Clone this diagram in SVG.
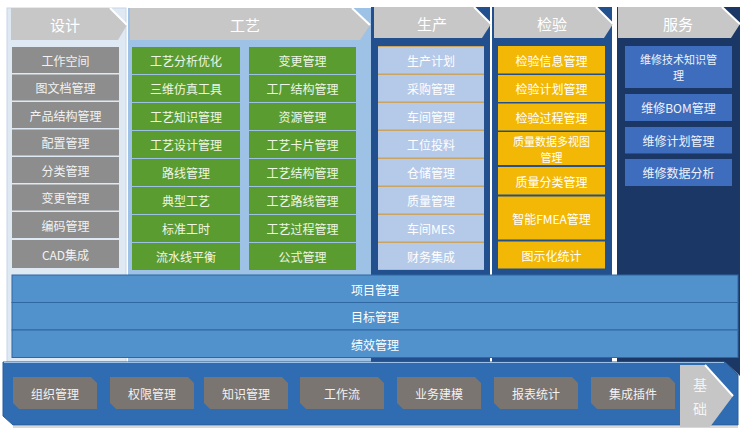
<svg xmlns="http://www.w3.org/2000/svg" width="755" height="437" viewBox="0 0 755 437">
<defs>
<style>
text{font-family:"Noto Sans CJK SC","Noto Sans",sans-serif;text-anchor:middle;dominant-baseline:central;}
.hd{fill:#c7c7c7;}
.hdt{fill:#ffffff;font-size:15px;}
.hl{stroke:#ffffff;stroke-width:2;fill:none;}
.gray{fill:#8d8d8d;}
.green{fill:#5b9c30;}
.lb{fill:#b5c9e9;}
.yel{fill:#f3b705;}
.svc{fill:#3e6dbd;}
.band{fill:#5191cc;stroke:#2f67a2;stroke-width:1;}
.item{fill:#7b7571;}
.t{fill:#f2f2f2;font-size:12px;}
.tg{fill:#eef6e6;font-size:12px;}
.tl{fill:#ffffff;font-size:12px;}
.tb{fill:#eef2fa;font-size:12px;}
.two{font-size:11px;}
</style>
</defs>
<rect width="755" height="437" fill="#ffffff"/>

<g id="col-design">
<rect x="7" y="8" width="119" height="354" fill="#dfe9f3" stroke="#c9d6e3"/>
<polygon class="hd" points="11,8 110,8 127,25 118,40 11,40"/>
<line class="hl" x1="110" y1="8" x2="127" y2="25"/>
<text class="hdt" x="65" y="24">设计</text>
<rect class="gray" x="12" y="47" width="107" height="26"/><text class="t" x="65.5" y="60">工作空间</text>
<rect class="gray" x="12" y="74.5" width="107" height="26"/><text class="t" x="65.5" y="87.5">图文档管理</text>
<rect class="gray" x="12" y="102" width="107" height="26"/><text class="t" x="65.5" y="115">产品结构管理</text>
<rect class="gray" x="12" y="129.5" width="107" height="26"/><text class="t" x="65.5" y="142.5">配置管理</text>
<rect class="gray" x="12" y="157" width="107" height="26"/><text class="t" x="65.5" y="170">分类管理</text>
<rect class="gray" x="12" y="184.5" width="107" height="26"/><text class="t" x="65.5" y="197.5">变更管理</text>
<rect class="gray" x="12" y="212" width="107" height="26"/><text class="t" x="65.5" y="225">编码管理</text>
<rect class="gray" x="12" y="240" width="107" height="28"/><text class="t" x="65.5" y="254">CAD集成</text>
</g>

<g id="col-process">
<rect x="128" y="8" width="244" height="354" fill="#9dc2e6"/>
<polygon class="hd" points="130,8 352,8 370,25 360,40 130,40"/>
<line class="hl" x1="352" y1="8" x2="370" y2="25"/>
<text class="hdt" x="245" y="24">工艺</text>
<rect class="green" x="132" y="47" width="108" height="27"/><text class="tg" x="186" y="60.5">工艺分析优化</text>
<rect class="green" x="132" y="75" width="108" height="27"/><text class="tg" x="186" y="88.5">三维仿真工具</text>
<rect class="green" x="132" y="103" width="108" height="27"/><text class="tg" x="186" y="116.5">工艺知识管理</text>
<rect class="green" x="132" y="131" width="108" height="27"/><text class="tg" x="186" y="144.5">工艺设计管理</text>
<rect class="green" x="132" y="159" width="108" height="27"/><text class="tg" x="186" y="172.5">路线管理</text>
<rect class="green" x="132" y="187" width="108" height="27"/><text class="tg" x="186" y="200.5">典型工艺</text>
<rect class="green" x="132" y="215" width="108" height="27"/><text class="tg" x="186" y="228.5">标准工时</text>
<rect class="green" x="132" y="243" width="108" height="27"/><text class="tg" x="186" y="256.5">流水线平衡</text>
<rect class="green" x="249" y="47" width="107" height="27"/><text class="tg" x="302.5" y="60.5">变更管理</text>
<rect class="green" x="249" y="75" width="107" height="27"/><text class="tg" x="302.5" y="88.5">工厂结构管理</text>
<rect class="green" x="249" y="103" width="107" height="27"/><text class="tg" x="302.5" y="116.5">资源管理</text>
<rect class="green" x="249" y="131" width="107" height="27"/><text class="tg" x="302.5" y="144.5">工艺卡片管理</text>
<rect class="green" x="249" y="159" width="107" height="27"/><text class="tg" x="302.5" y="172.5">工艺结构管理</text>
<rect class="green" x="249" y="187" width="107" height="27"/><text class="tg" x="302.5" y="200.5">工艺路线管理</text>
<rect class="green" x="249" y="215" width="107" height="27"/><text class="tg" x="302.5" y="228.5">工艺过程管理</text>
<rect class="green" x="249" y="243" width="107" height="27"/><text class="tg" x="302.5" y="256.5">公式管理</text>
</g>

<g id="col-production">
<rect x="371" y="7" width="119" height="355" fill="#22508f"/>
<polygon class="hd" points="374,7 474,7 491,24 482,38 374,38"/>
<line class="hl" x1="474" y1="7" x2="491" y2="24"/>
<text class="hdt" x="432" y="23">生产</text>
<rect x="378" y="46" width="106" height="224" fill="#c9a462"/>
<rect class="lb" x="378" y="47" width="106" height="26.5"/><text class="tl" x="431" y="60">生产计划</text>
<rect class="lb" x="378" y="75" width="106" height="26.5"/><text class="tl" x="431" y="88">采购管理</text>
<rect class="lb" x="378" y="103" width="106" height="26.5"/><text class="tl" x="431" y="116">车间管理</text>
<rect class="lb" x="378" y="131" width="106" height="26.5"/><text class="tl" x="431" y="144">工位投料</text>
<rect class="lb" x="378" y="159" width="106" height="26.5"/><text class="tl" x="431" y="172">仓储管理</text>
<rect class="lb" x="378" y="187" width="106" height="26.5"/><text class="tl" x="431" y="200">质量管理</text>
<rect class="lb" x="378" y="215" width="106" height="26.5"/><text class="tl" x="431" y="228">车间MES</text>
<rect class="lb" x="378" y="243" width="106" height="26.5"/><text class="tl" x="431" y="256">财务集成</text>
</g>

<g id="col-inspection">
<rect x="492" y="7" width="120" height="355" fill="#22508f"/>
<polygon class="hd" points="494,7 596,7 613,24 604,38 494,38"/>
<line class="hl" x1="596" y1="7" x2="613" y2="24"/>
<text class="hdt" x="552" y="23">检验</text>
<rect class="yel" x="498" y="46" width="107" height="27.5"/><text class="tl" x="551.5" y="60">检验信息管理</text>
<rect class="yel" x="498" y="75" width="107" height="27"/><text class="tl" x="551.5" y="88.5">检验计划管理</text>
<rect class="yel" x="498" y="103.5" width="107" height="27"/><text class="tl" x="551.5" y="117">检验过程管理</text>
<rect class="yel" x="498" y="132" width="107" height="33"/><text class="tl two" x="551.5" y="140.5">质量数据多视图</text><text class="tl two" x="551.5" y="156.5">管理</text>
<rect class="yel" x="498" y="167" width="107" height="27.5"/><text class="tl" x="551.5" y="181">质量分类管理</text>
<rect class="yel" x="498" y="196.5" width="107" height="43"/><text class="tl" x="551.5" y="218">智能FMEA管理</text>
<rect class="yel" x="498" y="241.5" width="107" height="27"/><text class="tl" x="551.5" y="255">图示化统计</text>
</g>

<g id="col-service">
<rect x="617" y="7" width="123" height="355" fill="#1b3766"/>
<polygon class="hd" points="618,7 722,7 740,24 731,38 618,38"/>
<line class="hl" x1="722" y1="7" x2="740" y2="24"/>
<text class="hdt" x="678" y="23">服务</text>
<rect class="svc" x="625" y="46" width="107" height="42"/><text class="tb two" x="678.5" y="58.5">维修技术知识管</text><text class="tb two" x="678.5" y="75">理</text>
<rect class="svc" x="625" y="94" width="107" height="27"/><text class="tb" x="678.5" y="107.5">维修BOM管理</text>
<rect class="svc" x="625" y="127" width="107" height="26.5"/><text class="tb" x="678.5" y="140">维修计划管理</text>
<rect class="svc" x="625" y="159" width="107" height="27"/><text class="tb" x="678.5" y="172.5">维修数据分析</text>
</g>

<g id="bands">
<rect class="band" x="12" y="275" width="726" height="27.5"/><text class="tl" x="375" y="289">项目管理</text>
<rect class="band" x="12" y="302.5" width="726" height="27.5"/><text class="tl" x="375" y="316">目标管理</text>
<rect class="band" x="12" y="330" width="726" height="27.5"/><text class="tl" x="375" y="344">绩效管理</text>
</g>

<g id="base">
<polygon points="723,360 740,360 740,376" fill="#1b3766"/>
<polygon points="3,362 725,362 738,375 738,425 13,425 3,416" fill="#2f6cb1" stroke="#2a5e9c"/>
<line x1="4" y1="362.5" x2="724" y2="362.5" stroke="#9cc0e6" stroke-width="1"/>
<line x1="13" y1="427" x2="738" y2="427" stroke="#d8d8d8" stroke-width="2"/>
<g id="item-org"><polygon class="item" points="13,377 91,377 97,383 97,409 19,409 13,403"/><text class="t" x="55" y="393">组织管理</text></g>
<g id="item-perm"><polygon class="item" points="110,377 188,377 194,383 194,409 116,409 110,403"/><text class="t" x="152" y="393">权限管理</text></g>
<g id="item-know"><polygon class="item" points="204,377 282,377 288,383 288,409 210,409 204,403"/><text class="t" x="246" y="393">知识管理</text></g>
<g id="item-flow"><polygon class="item" points="300,377 378,377 384,383 384,409 306,409 300,403"/><text class="t" x="342" y="393">工作流</text></g>
<g id="item-model"><polygon class="item" points="397,377 475,377 481,383 481,409 403,409 397,403"/><text class="t" x="439" y="393">业务建模</text></g>
<g id="item-report"><polygon class="item" points="494,377 572,377 578,383 578,409 500,409 494,403"/><text class="t" x="536" y="393">报表统计</text></g>
<g id="item-plugin"><polygon class="item" points="591,377 669,377 675,383 675,409 597,409 591,403"/><text class="t" x="633" y="393">集成插件</text></g>
<g id="base-label">
<polygon points="680,365 705,365 733,396 710,427 680,427" fill="#c6c6c6"/>
<line class="hl" x1="705" y1="365" x2="733" y2="396"/>
<text x="700" y="384" style="fill:#f4f4f4;font-size:14px;">基</text>
<text x="700" y="408" style="fill:#f4f4f4;font-size:14px;">础</text>
</g>
</g>
</svg>
